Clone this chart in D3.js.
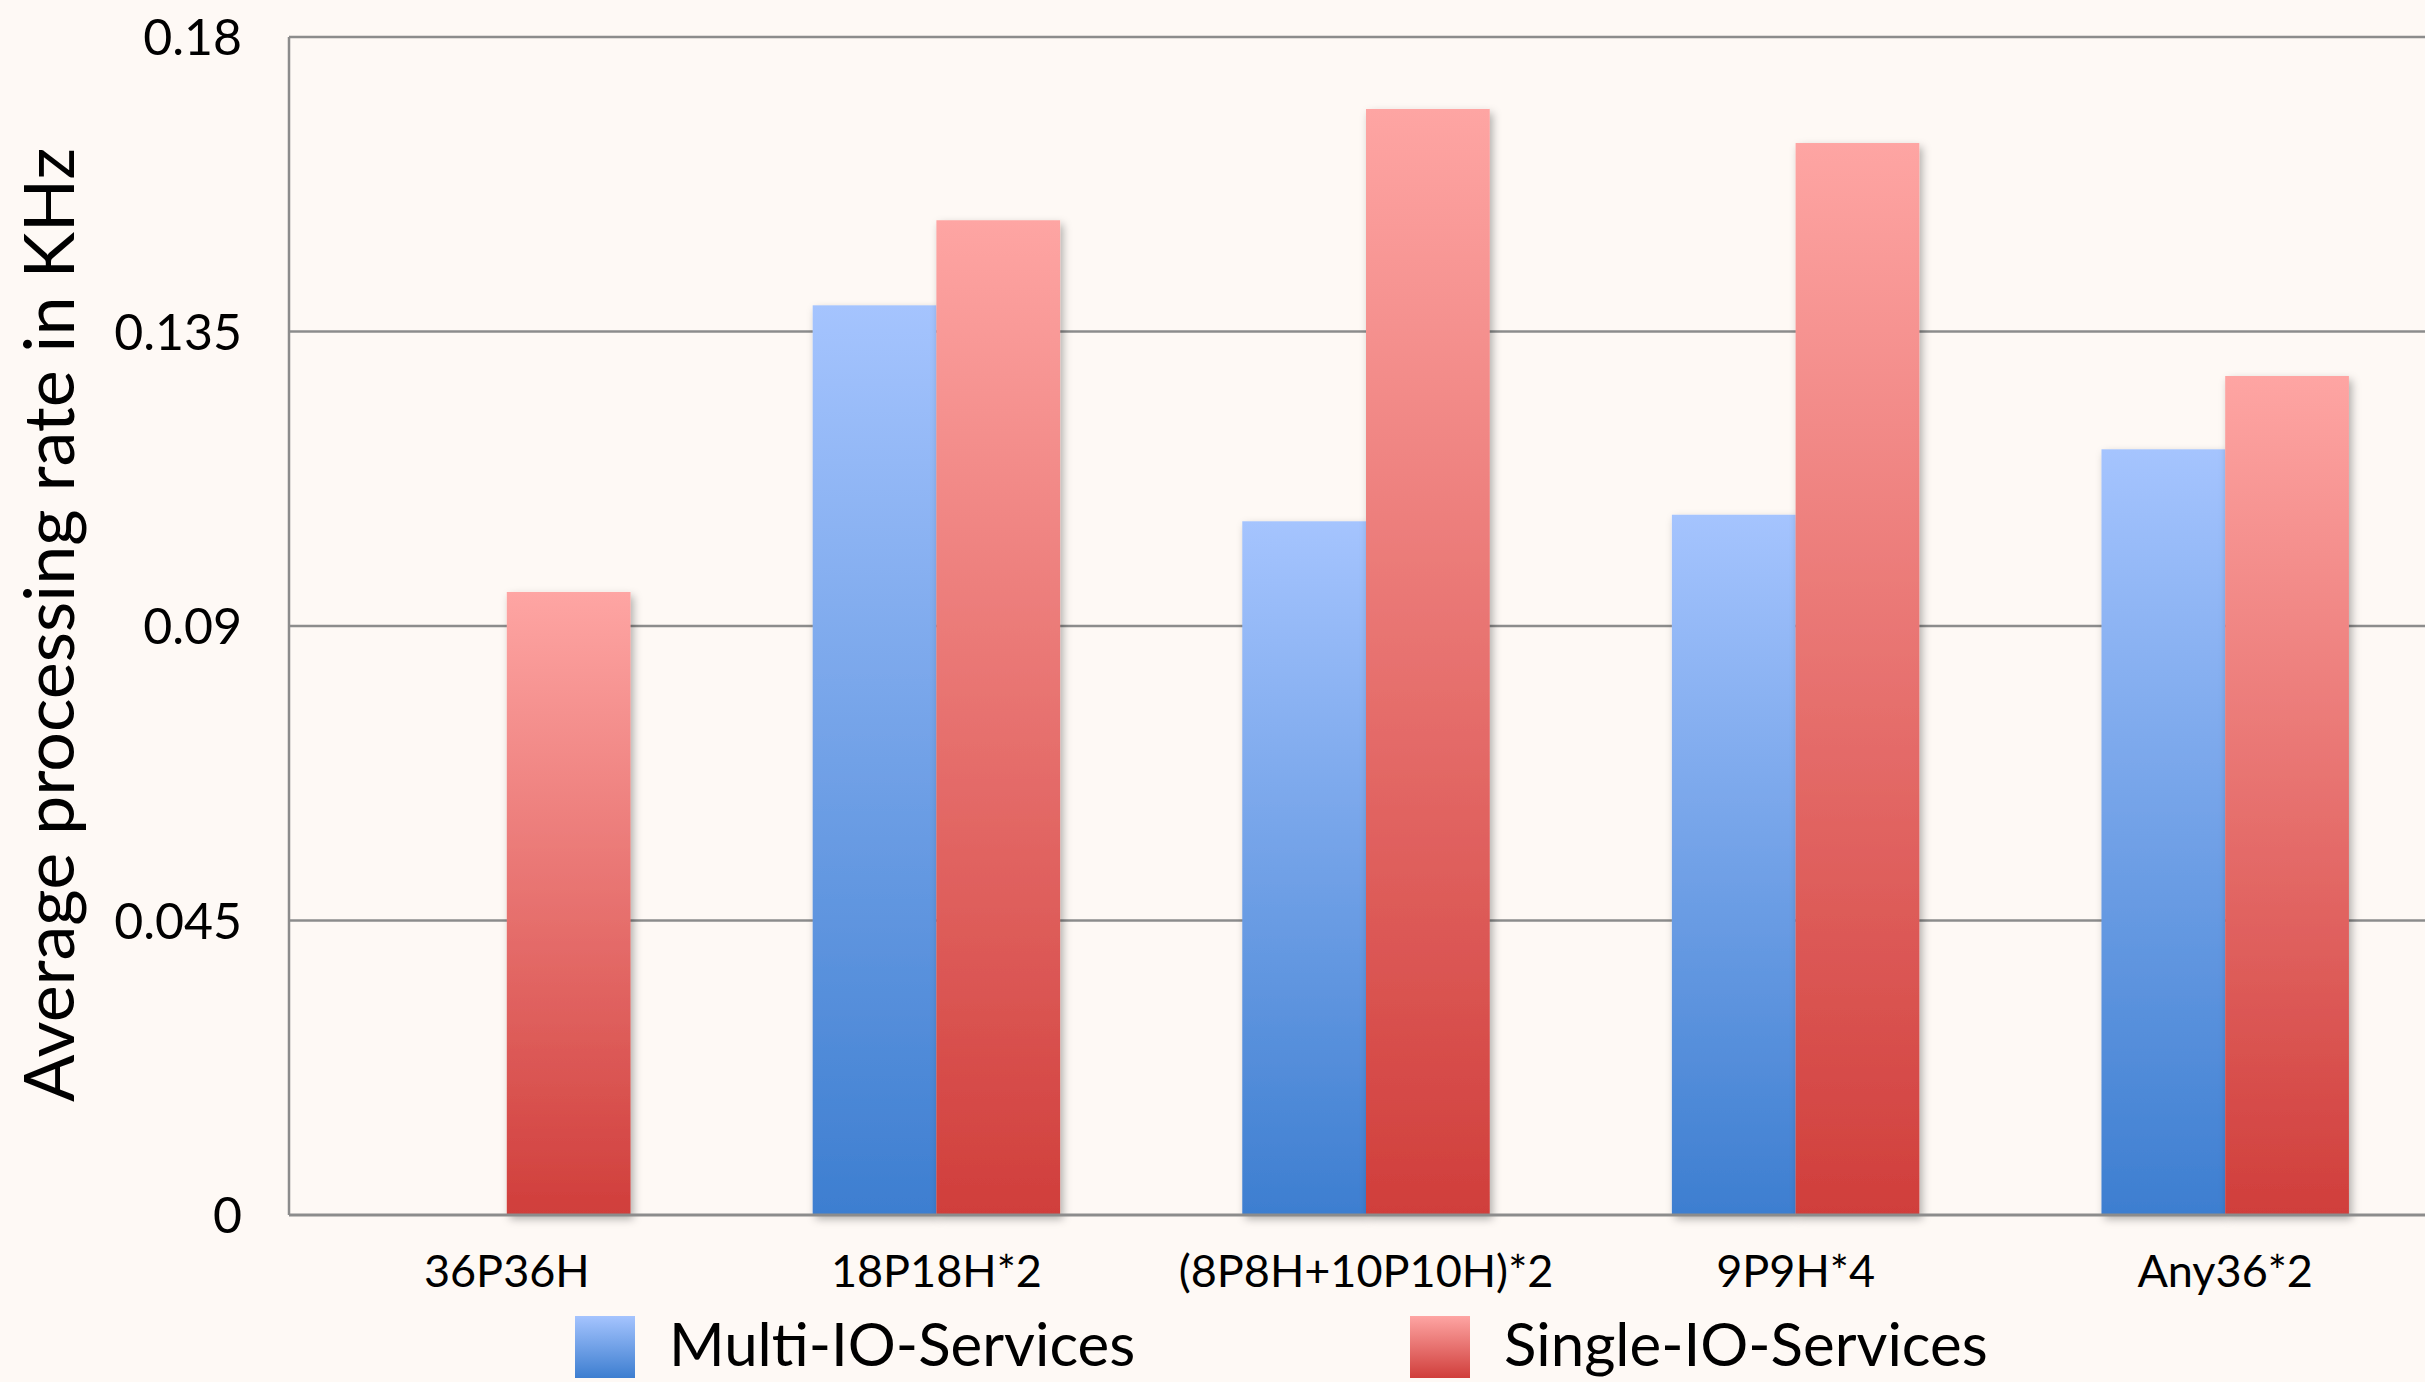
<!DOCTYPE html>
<html>
<head>
<meta charset="utf-8">
<script src="https://cdn.jsdelivr.net/npm/d3@7"></script>
<style>
  html,body{margin:0;padding:0;background:#fef9f5;}
  svg{display:block;}
</style>
</head>
<body>
<div id="chart"></div>
<script>
// chart data
const categories = ["36P36H","18P18H*2","(8P8H+10P10H)*2","9P9H*4","Any36*2"];
const seriesNames = ["Multi-IO-Services","Single-IO-Services"];
const multiIO = [0, 0.139, 0.106, 0.107, 0.117];
const singleIO = [0.0952, 0.152, 0.169, 0.1638, 0.1282];
const yTicks = [0, 0.045, 0.09, 0.135, 0.18];
const yTickLabels = ["0","0.045","0.09","0.135","0.18"];

const W = 2425, H = 1382;
var margin = {top:37,left:289},
w = 2148,
h = 1215 - margin.top;

var svg = d3.select("#chart").append("svg")
  .attr("width",W).attr("height",H)
  .style("background","#fef9f5");

var defs = svg.append("defs");
/* gradients for the two series, light on top */
const grads = [["gradBlue","#a5c4fe","#3d7ed0"],["gradRed","#fea5a3","#d03e3b"]];
grads.forEach(function(g){
  var lg = defs.append("linearGradient").attr("id",g[0])
    .attr("x1",0).attr("y1",0).attr("x2",0).attr("y2",1);
  lg.append("stop").attr("offset","0%").attr("stop-color",g[1]);
  lg.append("stop").attr("offset","100%").attr("stop-color",g[2]);
});
defs.append("filter").attr("id","shadow")
  .attr("x","-20%").attr("y","-5%").attr("width","140%").attr("height","115%")
  .append("feDropShadow")
  .attr("dx",3).attr("dy",4).attr("stdDeviation",4)
  .attr("flood-color","#000").attr("flood-opacity",0.3);

var g = svg.append("g").attr("transform",`translate(${margin.left},${margin.top})`);

var x0 = d3.scaleBand().domain(categories).range([3,w+3])
  .paddingInner(0.424).paddingOuter(0.212);
var x1 = d3.scaleBand().domain(seriesNames).range([0,x0.bandwidth()]).padding(0);
var y = d3.scaleLinear().domain([0,0.18]).range([h,0]);

// grid lines
g.selectAll("line.grid").data(yTicks.slice(1)).enter()
  .append("line").attr("class","grid")
  .attr("x1",0).attr("x2",W)
  .attr("y1",d=>y(d)).attr("y2",d=>y(d))
  .attr("stroke","#8c8c8c").attr("stroke-width",2.5);

// y tick labels
g.selectAll("text.ytick").data(yTicks).enter()
  .append("text").attr("class","ytick")
  .attr("x",-47).attr("y",d=>y(d))
  .attr("dy","0.36em")
  .attr("text-anchor","end")
  .attr("font-family","Lato, 'Open Sans', sans-serif")
  .attr("font-size",50)
  .attr("fill","#000")
  .text((d,i)=>yTickLabels[i]);

// bars
const rows = categories.map(function(c,i){
  return {cat:c, vals:[multiIO[i],singleIO[i]]};
});
var grp = g.selectAll("g.cat").data(rows).enter()
  .append("g").attr("class","cat")
  .attr("transform",d=>`translate(${x0(d.cat)},0)`);
grp.selectAll("rect").data(d=>d.vals.map((v,k)=>({s:seriesNames[k],v:v,k:k}))).enter()
  .append("rect")
  .filter(d=>d.v>0)
  .attr("x",d=>x1(d.s))
  .attr("width",x1.bandwidth())
  .attr("y",d=>y(d.v))
  .attr("height",d=>h-y(d.v))
  .attr("fill",d=>d.k==0?"url(#gradBlue)":"url(#gradRed)")
  .attr("filter","url(#shadow)");

// axes lines
g.append("line").attr("x1",0).attr("x2",0).attr("y1",0).attr("y2",h)
  .attr("stroke","#8c8c8c").attr("stroke-width",2.5);
g.append("line").attr("x1",0).attr("x2",W).attr("y1",h).attr("y2",h)
  .attr("stroke","#8c8c8c").attr("stroke-width",3);

// category labels
g.selectAll("text.xtick").data(categories).enter()
  .append("text").attr("class","xtick")
  .attr("x",d=>x0(d)+x0.bandwidth()/2)
  .attr("y",h+72)
  .attr("text-anchor","middle")
  .attr("font-family","Lato, 'Open Sans', sans-serif")
  .attr("font-size",45)
  .attr("fill","#000")
  .text(d=>d);

// y axis title
svg.append("text")
  .attr("transform","translate(74,625) rotate(-90)")
  .attr("text-anchor","middle")
  .attr("font-family","Lato, 'Open Sans', sans-serif")
  .attr("font-size",70)
  .attr("fill","#000")
  .text("Average processing rate in KHz");

// legend
const legX = [575,1410];
var leg = svg.selectAll("g.leg").data(seriesNames).enter()
  .append("g").attr("class","leg")
  .attr("transform",(d,i)=>`translate(${legX[i]},1316)`);
leg.append("rect").attr("width",60).attr("height",62)
  .attr("fill",(d,i)=>i==0?"url(#gradBlue)":"url(#gradRed)");
leg.append("text").attr("x",94).attr("y",50)
  .attr("font-family","Lato, 'Open Sans', sans-serif")
  .attr("font-size",60)
  .attr("fill","#000")
  .text(d=>d);
</script>
</body>
</html>
